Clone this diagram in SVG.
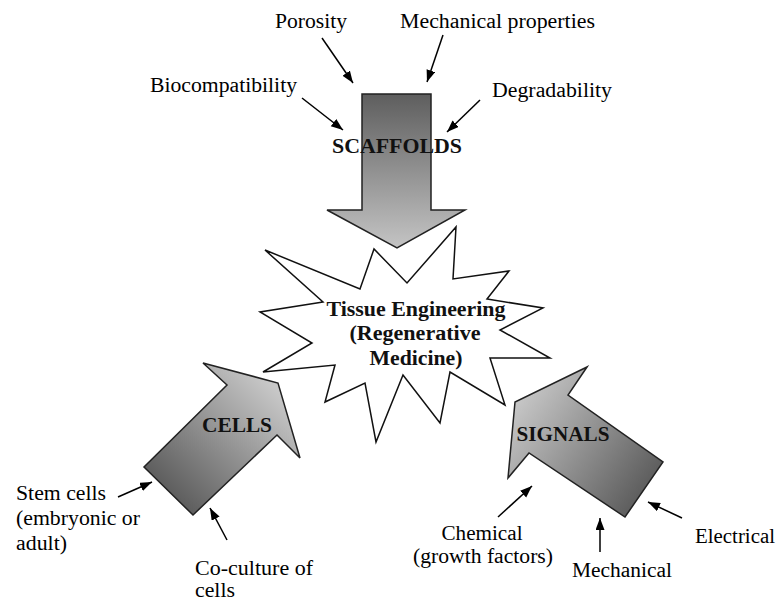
<svg xmlns="http://www.w3.org/2000/svg" width="781" height="601" viewBox="0 0 781 601">
<defs>
<style>
.lbl{font-family:"Liberation Serif","Times New Roman",serif;font-size:20px;fill:#000}
.big{font-family:"Liberation Serif","Times New Roman",serif;font-size:20px;font-weight:bold;fill:#111}
.ar{fill:url(#g);stroke:#222;stroke-width:1.5;stroke-linejoin:miter}
.conn line{stroke:#000;stroke-width:1.5;marker-end:url(#ah)}
</style>
<marker id="ah" markerUnits="userSpaceOnUse" markerWidth="13" markerHeight="10" refX="12" refY="4.5" orient="auto">
<path d="M0,0 L12,4.5 L0,9 z" fill="#000"/>
</marker>
<linearGradient id="gs" x1="0" y1="94" x2="0" y2="248" gradientUnits="userSpaceOnUse">
<stop offset="0" stop-color="#5e5e5e"/><stop offset="1" stop-color="#c4c4c4"/>
</linearGradient>
<linearGradient id="gc" x1="165" y1="495" x2="272" y2="385" gradientUnits="userSpaceOnUse">
<stop offset="0" stop-color="#5a5a5a"/><stop offset="1" stop-color="#c8c8c8"/>
</linearGradient>
<linearGradient id="gg" x1="515" y1="400" x2="648" y2="495" gradientUnits="userSpaceOnUse">
<stop offset="0" stop-color="#c8c8c8"/><stop offset="1" stop-color="#5a5a5a"/>
</linearGradient>
</defs>
<rect width="781" height="601" fill="#fff"/>

<g id="tissue-engineering">
<polygon points="265,250 360,289 374,249 407,283 456,227 453,279 509,271 487,299 543,308 500,330 550,358 490,358 505,405 450,372 440,423 403,375 376,442 365,383 325,402 335,365 263,372 312,343 260,312 323,302" fill="#fff" stroke="#111" stroke-width="1.5" stroke-linejoin="miter"/>
<text class="big" x="416" y="316" text-anchor="middle" textLength="179" lengthAdjust="spacingAndGlyphs">Tissue Engineering</text>
<text class="big" x="415" y="340" text-anchor="middle" textLength="131" lengthAdjust="spacingAndGlyphs">(Regenerative</text>
<text class="big" x="416" y="365" text-anchor="middle" textLength="93" lengthAdjust="spacingAndGlyphs">Medicine)</text>
</g>

<g id="scaffolds">
<polygon points="362,94 431,94 431,210 465,210 397,248 327,210 362,210" fill="url(#gs)" stroke="#222" stroke-width="1.5"/>
<text class="big" x="397" y="153" text-anchor="middle" textLength="130" lengthAdjust="spacingAndGlyphs">SCAFFOLDS</text>
</g>

<g id="cells">
<polygon points="203,363 278,383 300,458 277,435 193,515 144,467 227,385" fill="url(#gc)" stroke="#222" stroke-width="1.5"/>
<text class="big" x="237" y="432" text-anchor="middle" textLength="70" lengthAdjust="spacingAndGlyphs">CELLS</text>
</g>

<g id="signals">
<polygon points="587,367 568,395 663,462 625,517 529,453 508,478 515,402" fill="url(#gg)" stroke="#222" stroke-width="1.5"/>
<text class="big" x="563" y="441" text-anchor="middle" textLength="93" lengthAdjust="spacingAndGlyphs">SIGNALS</text>
</g>

<g id="label-porosity"><text class="lbl" x="275" y="28" textLength="72" lengthAdjust="spacingAndGlyphs">Porosity</text></g>
<g id="label-mechanical-properties"><text class="lbl" x="400" y="28" textLength="195" lengthAdjust="spacingAndGlyphs">Mechanical properties</text></g>
<g id="label-biocompatibility"><text class="lbl" x="150" y="92" textLength="147" lengthAdjust="spacingAndGlyphs">Biocompatibility</text></g>
<g id="label-degradability"><text class="lbl" x="492" y="97" textLength="120" lengthAdjust="spacingAndGlyphs">Degradability</text></g>
<g id="label-stem-cells">
<text class="lbl" x="16" y="500" textLength="90" lengthAdjust="spacingAndGlyphs">Stem cells</text>
<text class="lbl" x="16" y="525" textLength="124" lengthAdjust="spacingAndGlyphs">(embryonic or</text>
<text class="lbl" x="16" y="550" textLength="51" lengthAdjust="spacingAndGlyphs">adult)</text>
</g>
<g id="label-co-culture">
<text class="lbl" x="195" y="575" textLength="118" lengthAdjust="spacingAndGlyphs">Co-culture of</text>
<text class="lbl" x="195" y="597" textLength="40" lengthAdjust="spacingAndGlyphs">cells</text>
</g>
<g id="label-chemical">
<text class="lbl" x="482" y="540" text-anchor="middle" textLength="81" lengthAdjust="spacingAndGlyphs">Chemical</text>
<text class="lbl" x="483" y="563" text-anchor="middle" textLength="140" lengthAdjust="spacingAndGlyphs">(growth factors)</text>
</g>
<g id="label-mechanical"><text class="lbl" x="572" y="577" textLength="100" lengthAdjust="spacingAndGlyphs">Mechanical</text></g>
<g id="label-electrical"><text class="lbl" x="695" y="543" textLength="80" lengthAdjust="spacingAndGlyphs">Electrical</text></g>

<g id="connectors" class="conn">
<line x1="322" y1="38" x2="353" y2="83"/>
<line x1="443" y1="35" x2="427" y2="82"/>
<line x1="302" y1="98" x2="343" y2="130"/>
<line x1="480" y1="100" x2="447" y2="132"/>
<line x1="118" y1="497" x2="152" y2="482"/>
<line x1="227" y1="540" x2="210" y2="508"/>
<line x1="498" y1="517" x2="532" y2="486"/>
<line x1="600" y1="552" x2="600" y2="518"/>
<line x1="682" y1="518" x2="648" y2="502"/>
</g>
</svg>
